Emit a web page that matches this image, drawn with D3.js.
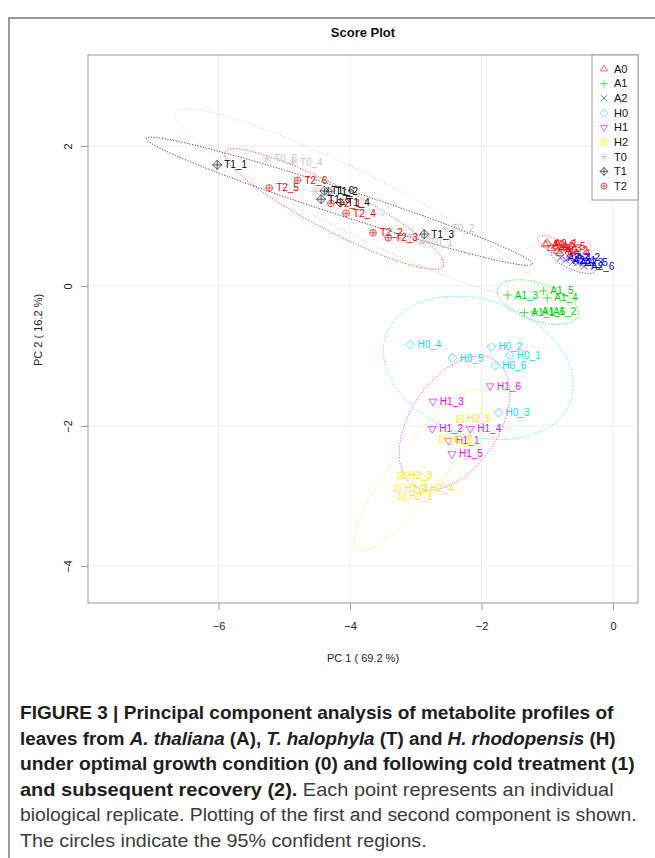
<!DOCTYPE html>
<html>
<head>
<meta charset="utf-8">
<script src="https://cdn.jsdelivr.net/npm/d3@7/dist/d3.min.js"></script>
<style>
  body { margin: 0; background: #fff; }
  text { font-family: "Liberation Sans", Arial, sans-serif; }
</style>
</head>
<body>
<div id="chart"></div>
<script>
// groups, in legend order
const groupNames = ['A0', 'A1', 'A2', 'H0', 'H1', 'H2', 'T0', 'T1', 'T2']
const groupColors = ['#ff0000', '#00cd00', '#0000ff', '#00e5ee', '#ff00ff', '#f2f200', '#bebebe', '#000000', '#ff0000']
const groupSymbols = ['triUp', 'plus', 'cross', 'diamond', 'triDown', 'squareX', 'star', 'diamondPlus', 'circlePlus']

// score values (PC1, PC2)
const sampleNames = [
  'A0_1', 'A0_2', 'A0_3', 'A0_4', 'A0_5', 'A0_6',
  'A1_1', 'A1_2', 'A1_3', 'A1_4', 'A1_5', 'A1_6',
  'A2_1', 'A2_2', 'A2_3', 'A2_4', 'A2_5', 'A2_6',
  'H0_1', 'H0_2', 'H0_3', 'H0_4', 'H0_5', 'H0_6',
  'H1_1', 'H1_2', 'H1_3', 'H1_4', 'H1_5', 'H1_6',
  'H2_1', 'H2_2', 'H2_3', 'H2_4', 'H2_5', 'H2_6',
  'T0_1', 'T0_2', 'T0_3', 'T0_4', 'T0_5', 'T0_6',
  'T1_1', 'T1_2', 'T1_3', 'T1_4', 'T1_5', 'T1_6',
  'T2_1', 'T2_2', 'T2_3', 'T2_4', 'T2_5', 'T2_6'
]
const pc1Scores = [
  -1.00, -0.84, -0.94, -0.81, -0.88, -1.03,
  -1.35, -1.02, -1.60, -1.00, -1.06, -1.19,
  -0.72, -0.66, -0.61, -0.80, -0.54, -0.44,
  -1.57, -1.85, -1.74, -3.08, -2.44, -1.79,
  -2.50, -2.75, -2.74, -2.17, -2.45, -1.87,
  -3.21, -3.28, -3.22, -2.89, -2.33, -2.59,
  -2.89, -2.56, -3.24, -4.87, -4.53, -5.26,
  -6.02, -4.33, -2.87, -4.15, -4.44, -4.39,
  -4.29, -3.65, -3.42, -4.06, -5.23, -4.80
]
const pc2Scores = [
  0.61, 0.50, 0.54, 0.47, 0.57, 0.59,
  -0.38, -0.36, -0.13, -0.17, -0.07, -0.37,
  0.37, 0.40, 0.34, 0.40, 0.33, 0.28,
  -0.99, -0.87, -1.81, -0.84, -1.03, -1.14,
  -2.21, -2.04, -1.65, -2.04, -2.40, -1.43,
  -3.01, -2.89, -2.71, -2.90, -1.90, -2.19,
  0.62, 0.82, 0.68, 1.76, 1.35, 1.82,
  1.73, 1.35, 0.74, 1.19, 1.24, 1.36,
  1.18, 0.76, 0.69, 1.04, 1.40, 1.51
]

// 95% regions per group: centre, semi axes, angle (deg), in data units
const ellipseCx = [-0.87, -1.14, -0.60, -2.05, -2.41, -2.96, -3.89, -4.16, -4.24]
const ellipseCy = [0.56, -0.23, 0.35, -1.17, -1.96, -2.63, 1.18, 1.21, 1.10]
const ellipseRx = [0.30, 0.64, 0.36, 1.48, 1.09, 1.47, 3.06, 3.07, 1.85]
const ellipseRy = [0.10, 0.27, 0.12, 0.97, 0.66, 0.37, 0.44, 0.19, 0.32]
const ellipseAngle = [-26, -17, -21, -17, 53, 50, -25, -17, -26]

const xTicks = [-6, -4, -2, 0]
const yTicks = [2, 0, -2, -4]

const captionLines = [
  [['FIGURE 3 | Principal component analysis of metabolite profiles of', 'b']],
  [['leaves from ', 'b'], ['A. thaliana', 'bi'], [' (A), ', 'b'], ['T. halophyla', 'bi'], [' (T) and ', 'b'], ['H. rhodopensis', 'bi'], [' (H)', 'b']],
  [['under optimal growth condition (0) and following cold treatment (1)', 'b']],
  [['and subsequent recovery (2).', 'b'], [' Each point represents an individual', 'r']],
  [['biological replicate. Plotting of the first and second component is shown.', 'r']],
  [['The circles indicate the 95% confident regions.', 'r']]
]
const captionWidths = [594, 596, 615, 594, 617, 407]

const W = 655, H = 858
const plot = { left: 88, right: 638, top: 55, bottom: 603 }

const svg = d3.select('#chart').append('svg')
  .attr('width', W).attr('height', H)

// figure frame
svg.append('path')
  .attr('d', `M9,${H} V18 H${W}`)
  .attr('fill', 'none').attr('stroke', '#7a7a7a').attr('stroke-width', 1.5)

const x = d3.scaleLinear().domain([-7.985, 0.38]).range([plot.left, plot.right])
const y = d3.scaleLinear().domain([3.30, -4.53]).range([plot.top, plot.bottom])

svg.append('text')
  .attr('x', 363).attr('y', 37)
  .attr('text-anchor', 'middle')
  .style('font-size', '13px').style('font-weight', 'bold').style('fill', '#111')
  .text('Score Plot')

// grid
const grid = svg.append('g')
grid.selectAll('.gx').data(xTicks).join('line')
  .attr('x1', d => x(d)).attr('x2', d => x(d))
  .attr('y1', plot.top).attr('y2', plot.bottom)
  .attr('stroke', '#efefef')
grid.selectAll('.gy').data(yTicks).join('line')
  .attr('y1', d => y(d)).attr('y2', d => y(d))
  .attr('x1', plot.left).attr('x2', plot.right)
  .attr('stroke', '#efefef')

// axes
const xAxis = svg.append('g')
  .attr('transform', `translate(0,${plot.bottom})`)
  .call(d3.axisBottom(x).tickValues(xTicks).tickSize(7).tickPadding(12).tickFormat(d3.format('d')))
xAxis.select('.domain').remove()
xAxis.selectAll('line').attr('stroke', '#999')
xAxis.selectAll('text').style('font-size', '11px').style('fill', '#222')
  .style('font-family', '"Liberation Sans", Arial, sans-serif')

const yAxis = svg.append('g')
  .attr('transform', `translate(${plot.left},0)`)
  .call(d3.axisLeft(y).tickValues(yTicks).tickSize(7).tickFormat(d3.format('d')))
yAxis.select('.domain').remove()
yAxis.selectAll('line').attr('stroke', '#999')
yAxis.selectAll('text')
  .attr('x', null).attr('dy', '0.35em')
  .attr('transform', 'translate(-20,0) rotate(-90)')
  .attr('text-anchor', 'middle')
  .style('font-size', '11px').style('fill', '#222')
  .style('font-family', '"Liberation Sans", Arial, sans-serif')

svg.append('text')
  .attr('x', 363).attr('y', 662)
  .attr('text-anchor', 'middle')
  .style('font-size', '11px').style('fill', '#222')
  .text('PC 1 ( 69.2 %)')
svg.append('text')
  .attr('transform', 'translate(42,330) rotate(-90)')
  .attr('text-anchor', 'middle')
  .style('font-size', '11px').style('fill', '#222')
  .text('PC 2 ( 16.2 %)')

// symbols (R pch 2..10)
function symbolPath(kind, r){
  const t = r * 0.87, h = r * 0.5, s = r * 0.75
  const circle = rr => `M${rr},0 A${rr},${rr} 0 1,1 ${-rr},0 A${rr},${rr} 0 1,1 ${rr},0 Z`
  switch(kind){
    case 'triUp': return `M0,${-r} L${t},${h} L${-t},${h} Z`
    case 'triDown': return `M0,${r} L${t},${-h} L${-t},${-h} Z`
    case 'plus': return `M${-r},0 H${r} M0,${-r} V${r}`
    case 'cross': return `M${-s},${-s} L${s},${s} M${-s},${s} L${s},${-s}`
    case 'diamond': return `M0,${-r} L${r},0 L0,${r} L${-r},0 Z`
    case 'squareX': return `M${-s},${-s} H${s} V${s} H${-s} Z M${-s},${-s} L${s},${s} M${-s},${s} L${s},${-s}`
    case 'star': return `M${-r},0 H${r} M0,${-r} V${r} M${-s},${-s} L${s},${s} M${-s},${s} L${s},${-s}`
    case 'diamondPlus': return `M0,${-r} L${r},0 L0,${r} L${-r},0 Z M${-r},0 H${r} M0,${-r} V${r}`
    case 'circlePlus': return circle(s) + ` M${-s},0 H${s} M0,${-s} V${s}`
  }
}

const samples = sampleNames.map((name, i) => ({
  name, g: groupNames.indexOf(name.slice(0, 2)), pc1: pc1Scores[i], pc2: pc2Scores[i]
}))

// confidence ellipses
const line = d3.line().x(d => x(d[0])).y(d => y(d[1]))
const ellG = svg.append('g')
groupNames.forEach((g, i) => {
  const a = ellipseAngle[i] * Math.PI / 180
  const pts = d3.range(0, 361, 3).map(deg => {
    const t = deg * Math.PI / 180
    const ex = ellipseRx[i] * Math.cos(t), ey = ellipseRy[i] * Math.sin(t)
    return [ellipseCx[i] + ex * Math.cos(a) - ey * Math.sin(a),
            ellipseCy[i] + ex * Math.sin(a) + ey * Math.cos(a)]
  })
  ellG.append('path')
    .attr('d', line(pts))
    .attr('fill', 'none')
    .attr('stroke', groupColors[i])
    .attr('stroke-opacity', g === 'T0' ? 0.55 : 0.7)
    .attr('stroke-width', 1)
    .attr('stroke-dasharray', '1.2,1.6')
})

// points + labels
const ptG = svg.append('g')
ptG.selectAll('path').data(samples).join('path')
  .attr('transform', d => `translate(${x(d.pc1)},${y(d.pc2)})`)
  .attr('d', d => symbolPath(groupSymbols[d.g], 4.5))
  .attr('fill', 'none')
  .attr('stroke', d => groupColors[d.g])
  .attr('stroke-opacity', 0.65)
  .attr('stroke-width', 1)
ptG.selectAll('text').data(samples).join('text')
  .attr('x', d => x(d.pc1) + 7)
  .attr('y', d => y(d.pc2))
  .attr('dy', '0.35em')
  .style('font-size', '10px')
  .style('fill', d => groupColors[d.g])
  .style('fill-opacity', d => groupNames[d.g] === 'T0' ? 0.9 : 1)
  .text(d => d.name)

// plot box
svg.append('rect')
  .attr('x', plot.left).attr('y', plot.top)
  .attr('width', plot.right - plot.left).attr('height', plot.bottom - plot.top)
  .attr('fill', 'none').attr('stroke', '#999')

// legend
const lg = svg.append('g')
lg.append('rect')
  .attr('x', 592).attr('y', plot.top)
  .attr('width', plot.right - 592).attr('height', 145)
  .attr('fill', '#fff').attr('stroke', '#999')
const legendY = d3.scalePoint().domain(groupNames).range([69, 186])
groupNames.forEach((g, i) => {
  lg.append('path')
    .attr('transform', `translate(604,${legendY(g)})`)
    .attr('d', symbolPath(groupSymbols[i], 4))
    .attr('fill', 'none')
    .attr('stroke', groupColors[i]).attr('stroke-opacity', 0.6)
  lg.append('text')
    .attr('x', 614).attr('y', legendY(g)).attr('dy', '0.35em')
    .style('font-size', '11px').style('fill', '#111')
    .text(g)
})

// caption (condensed look: larger font squeezed to the line widths)
const cap = svg.append('g')
const capStyle = { b: ['bold', 'normal', '#1e1e1e'], bi: ['bold', 'italic', '#1e1e1e'], r: ['normal', 'normal', '#3c3c3c'] }
captionLines.forEach((segs, i) => {
  const t = cap.append('text')
    .attr('transform', `translate(20,${719 + i * 25.6})`)
    .style('font-size', '18px')
  segs.forEach(([txt, st]) => {
    t.append('tspan')
      .style('font-weight', capStyle[st][0])
      .style('font-style', capStyle[st][1])
      .style('fill', capStyle[st][2])
      .text(txt)
  })
  const w = t.node().getComputedTextLength()
  t.attr('transform', `translate(20,${719 + i * 25.6}) scale(${captionWidths[i] / w},1)`)
})
</script>
</body>
</html>
